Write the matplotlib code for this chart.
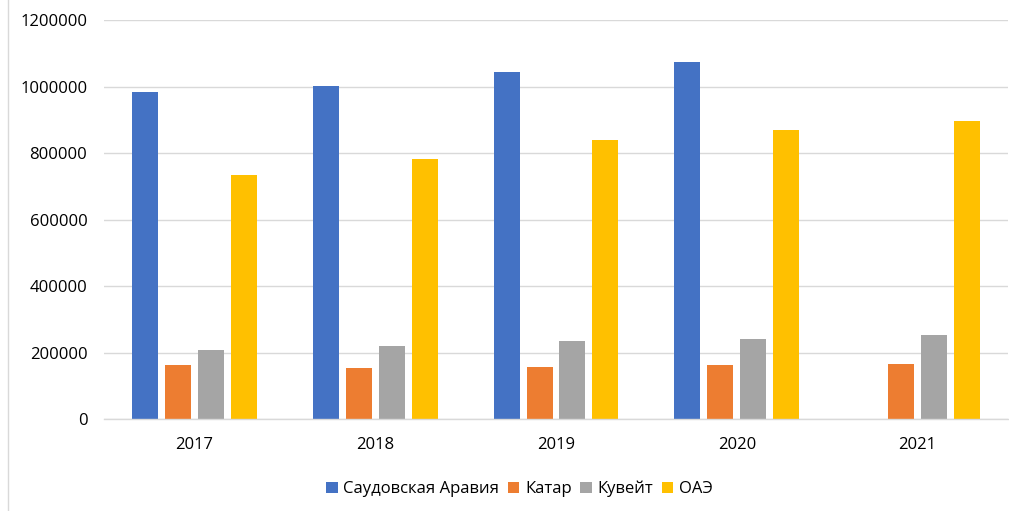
import numpy as np
import matplotlib
matplotlib.use("Agg")
import matplotlib.pyplot as plt
from matplotlib.lines import Line2D

years = ["2017", "2018", "2019", "2020", "2021"]
series_names = ["Саудовская Аравия", "Катар", "Кувейт", "ОАЭ"]
saudi = [983000, 1002000, 1044000, 1074000, np.nan]
qatar = [163000, 154000, 157000, 163000, 166000]
kuwait = [208000, 220000, 235000, 241000, 253000]
uae = [734000, 782000, 839000, 869000, 896000]
colors = ["#4472C4", "#ED7D31", "#A5A5A5", "#FFC000"]
yticks = [0, 200000, 400000, 600000, 800000, 1000000, 1200000]

plt.rcParams['font.family'] = ['Open Sans', 'DejaVu Sans']

W, H = 1009, 511
fig = plt.figure(figsize=(W / 100, H / 100), dpi=100)
ax = fig.add_axes([104 / W, 1 - 419.3 / H, (1008 - 104) / W, (419.3 - 20) / H])

x = np.arange(len(years))
bw = 26 / 181
pitch = 33 / 181
data = [saudi, qatar, kuwait, uae]
for i, (vals, name, c) in enumerate(zip(data, series_names, colors)):
    ax.bar(x + (i - 1.5) * pitch, vals, width=bw, color=c, label=name, zorder=3)

ax.set_xlim(-0.5, len(years) - 0.5)
ax.set_ylim(0, 1200000)
ax.set_yticks(yticks)
ax.set_yticklabels([str(v) for v in yticks])
ax.set_xticks(x)
ax.set_xticklabels(years)
ax.grid(axis='y', color='#D9D9D9', linewidth=1.0, zorder=0)
for s in ['top', 'right', 'left']:
    ax.spines[s].set_visible(False)
ax.spines['bottom'].set_color('#D9D9D9')
ax.spines['bottom'].set_linewidth(1.0)
ax.spines['bottom'].set_zorder(4)
ax.tick_params(axis='both', length=0, labelsize=12, colors='#000000')
ax.tick_params(axis='y', pad=12)
ax.tick_params(axis='x', pad=13)

fig.add_artist(Line2D([8 / W, 8 / W], [0, 1], color='#D9D9D9', linewidth=1.0))

leg = fig.legend(loc='center', bbox_to_anchor=(519.5 / W, 1 - 489 / H), ncol=4,
                 frameon=False, fontsize=12, handlelength=0.7, handleheight=0.7,
                 handletextpad=0.35, columnspacing=0.5)

fig.savefig("out.png", dpi=100, facecolor='white')
